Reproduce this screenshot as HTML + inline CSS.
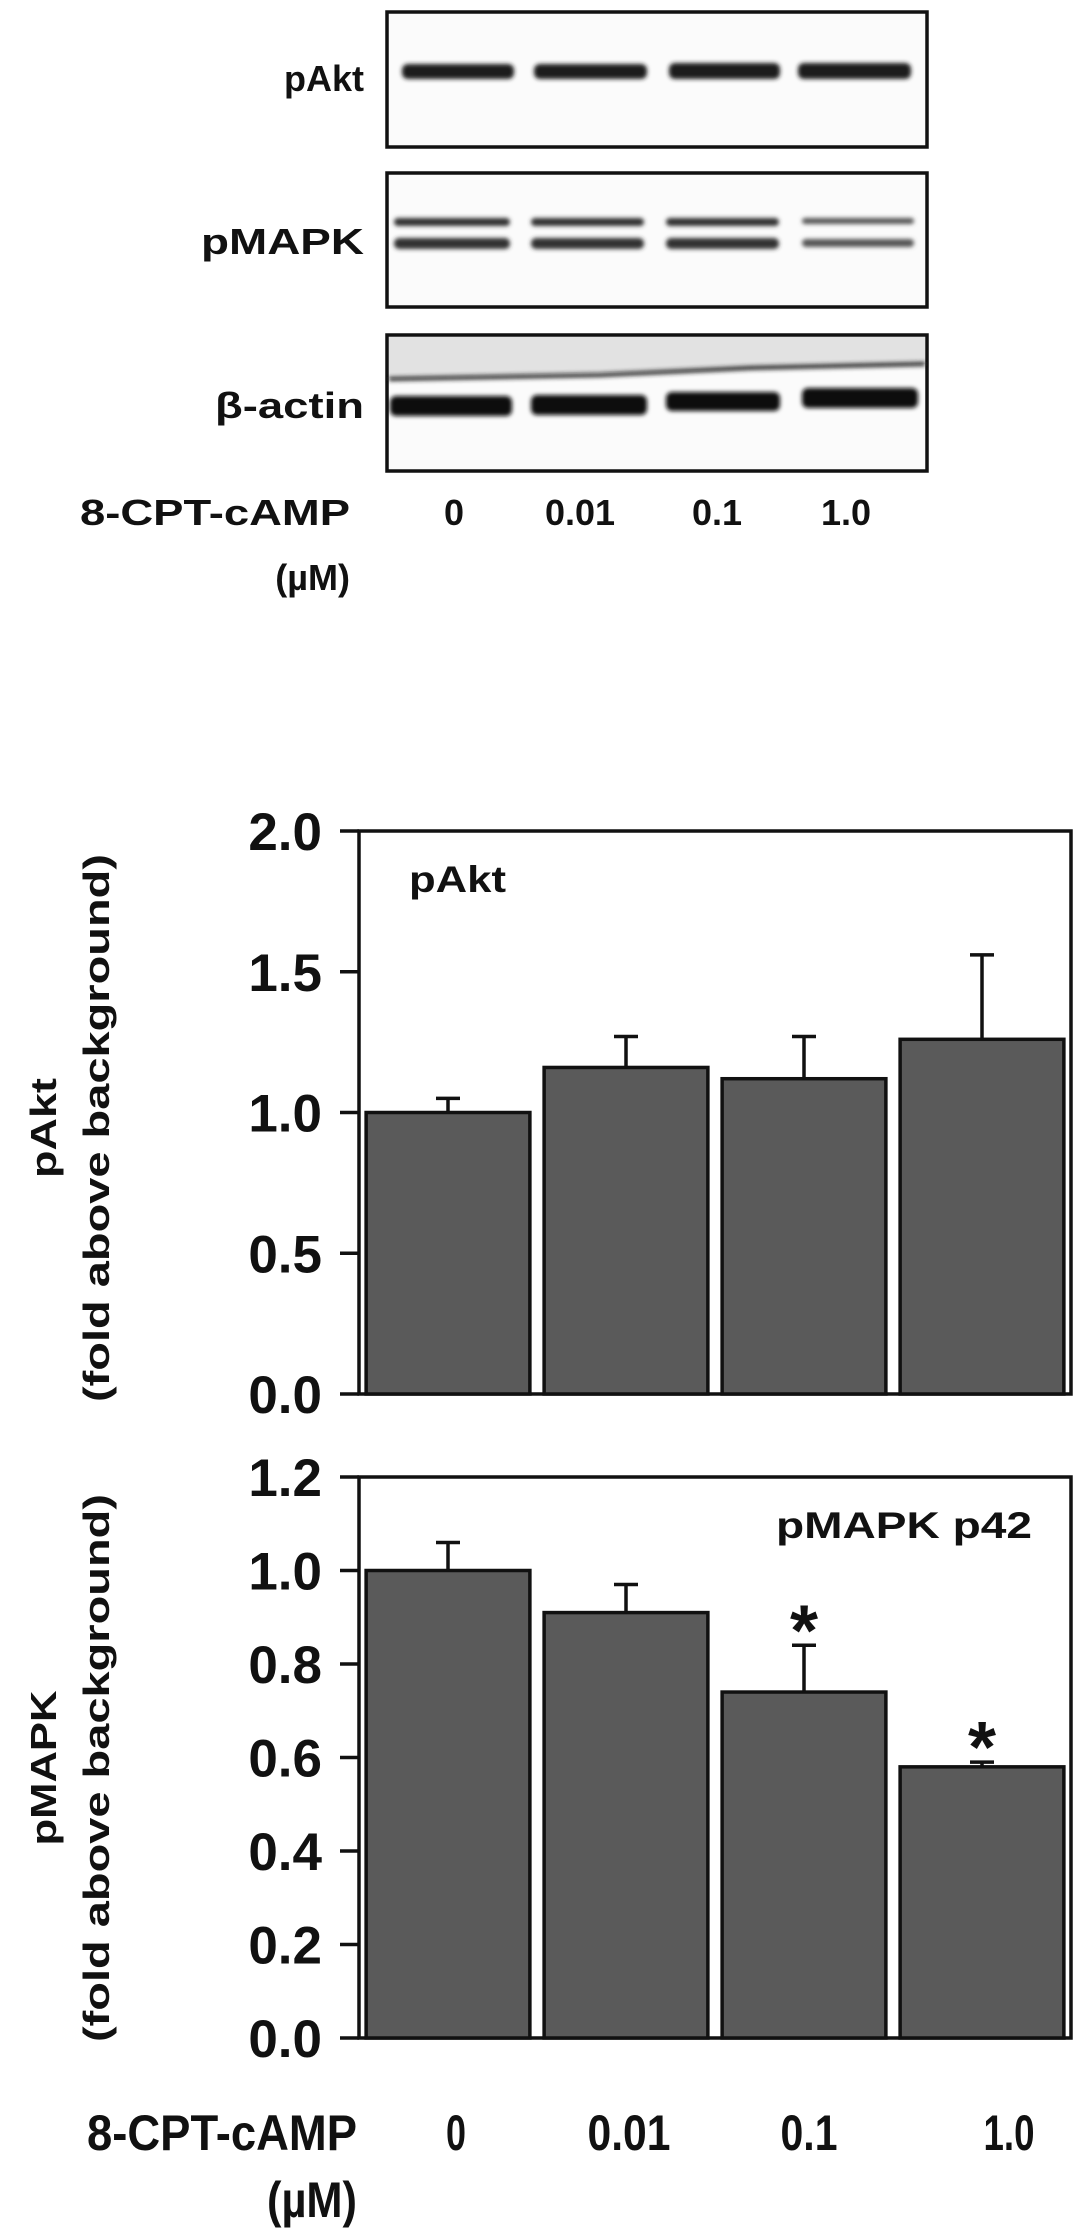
<!DOCTYPE html>
<html><head><meta charset="utf-8"><style>
html,body{margin:0;padding:0;background:#fff;}
svg{display:block;font-family:"Liberation Sans",Arial,sans-serif;}
</style></head><body>
<svg id="fig" width="1087" height="2230" viewBox="0 0 1087 2230">
<defs>
<filter id="blur" x="-10%" y="-100%" width="120%" height="300%"><feGaussianBlur stdDeviation="2.2"/></filter>
</defs>
<g font-weight="bold" fill="#111">
  <text x="364" y="91" text-anchor="end" font-size="36">pAkt</text>
  <text x="364" y="254" text-anchor="end" font-size="36" textLength="163" lengthAdjust="spacingAndGlyphs">pMAPK</text>
  <text x="364" y="418" text-anchor="end" font-size="36" textLength="149" lengthAdjust="spacingAndGlyphs">β-actin</text>

  <rect x="387" y="12" width="540" height="135" fill="#fbfbfb" stroke="#111" stroke-width="3.5"/>
  <g filter="url(#blur)" fill="#1a1a1a">
    <rect x="402" y="64" width="112" height="15" rx="6"/>
    <rect x="534" y="64" width="113" height="15" rx="6"/>
    <rect x="669" y="63" width="111" height="16" rx="6"/>
    <rect x="798" y="63" width="113" height="16" rx="6"/>
  </g>

  <rect x="387" y="173" width="540" height="134" fill="#fbfbfb" stroke="#111" stroke-width="3.5"/>
  <g filter="url(#blur)" fill="#333">
    <rect x="394" y="218" width="116" height="8" rx="4"/>
    <rect x="531" y="218" width="113" height="8" rx="4"/>
    <rect x="666" y="218" width="113" height="8" rx="4"/>
    <rect x="802" y="218" width="112" height="6" rx="3" fill="#555"/>
    <rect x="394" y="238" width="116" height="11" rx="5"/>
    <rect x="531" y="238" width="113" height="11" rx="5"/>
    <rect x="666" y="238" width="113" height="11" rx="5"/>
    <rect x="802" y="239" width="112" height="8" rx="4" fill="#555"/>
  </g>

  <rect x="387" y="335" width="540" height="136" fill="#fbfbfb" stroke="#111" stroke-width="3.5"/>
  <polygon points="389,337 925,337 925,364 389,378" fill="#e2e2e2"/>
  <path d="M389,379 L600,375 L750,368 L925,364" stroke="#222" stroke-width="4" fill="none" filter="url(#blur)"/>
  <g filter="url(#blur)" fill="#111">
    <rect x="390" y="396" width="122" height="20" rx="6"/>
    <rect x="531" y="395" width="116" height="20" rx="6"/>
    <rect x="666" y="392" width="114" height="19" rx="6"/>
    <rect x="802" y="388" width="116" height="20" rx="6"/>
  </g>

  <text x="80" y="525" font-size="36" textLength="270" lengthAdjust="spacingAndGlyphs">8-CPT-cAMP</text>
  <text x="350" y="590" text-anchor="end" font-size="36">(µM)</text>
  <text x="454" y="525" text-anchor="middle" font-size="36">0</text>
  <text x="580" y="525" text-anchor="middle" font-size="36">0.01</text>
  <text x="717" y="525" text-anchor="middle" font-size="36">0.1</text>
  <text x="846" y="525" text-anchor="middle" font-size="36">1.0</text>
</g>
<g id="charts"></g>
</svg>
<script>
const categories = ["0", "0.01", "0.1", "1.0"];
const paktValues = [1.00, 1.16, 1.12, 1.26];
const paktErrors = [0.05, 0.11, 0.15, 0.30];
const paktTicks = ["0.0", "0.5", "1.0", "1.5", "2.0"];
const mapkValues = [1.00, 0.91, 0.74, 0.58];
const mapkErrors = [0.06, 0.06, 0.10, 0.01];
const mapkTicks = ["0.0", "0.2", "0.4", "0.6", "0.8", "1.0", "1.2"];
const mapkSignificant = [false, false, true, true];

const NS = "http://www.w3.org/2000/svg";
const root = document.getElementById("charts");
function mk(tag, attrs, parent) {
  const e = document.createElementNS(NS, tag);
  for (const k in attrs) e.setAttribute(k, attrs[k]);
  (parent || root).appendChild(e);
  return e;
}
function drawChart(opt) {
  const g = mk("g", {});
  
  
  const L = 359, R = 1071, T = opt.top, B = opt.bottom;
  const yMax = parseFloat(opt.ticks[opt.ticks.length - 1]);
  const y = v => B - (v / yMax) * (B - T);
  const slot = (R - L) / opt.values.length;
  const xc = i => L + slot * (i + 0.5);
  const frame = mk("rect", {x: L, y: T, width: R - L, height: B - T, fill: "none", stroke: "#111", "stroke-width": 3.5}, g);
  
  
  opt.values.forEach((v, i) => {
    const bw = slot * 0.92;
    const bar = mk("rect", {x: xc(i) - bw / 2, y: y(v), width: bw, height: B - y(v), fill: "#5a5a5a", stroke: "#111", "stroke-width": 3.5}, g);
    
    
    const et = y(v + opt.errors[i]);
    const eb = mk("path", {d: `M${xc(i)},${y(v)} L${xc(i)},${et} M${xc(i) - 12},${et} L${xc(i) + 12},${et}`, stroke: "#111", "stroke-width": 3.5, fill: "none"}, g);
    
    
    if (opt.sig && opt.sig[i]) {
      const s = mk("text", {x: xc(i), y: et - 32 + 42, "text-anchor": "middle", "font-size": 72, "font-weight": "bold", fill: "#111"}, g);
      s.textContent = "*";
      
      
    }
  });
  opt.ticks.forEach(t => {
    const yy = y(parseFloat(t));
    const tk = mk("line", {x1: L - 19, x2: L, y1: yy, y2: yy, stroke: "#111", "stroke-width": 3.5}, g);
    
    
    const tl = mk("text", {x: 322, y: yy + 19, "text-anchor": "end", "font-size": 53, "font-weight": "bold", fill: "#111"}, g);
    tl.textContent = t;
    
    
  });
  const pl = mk("text", {x: opt.labelX, y: opt.labelY, "font-size": 37, "font-weight": "bold", fill: "#111", textLength: opt.labelLen, lengthAdjust: "spacingAndGlyphs"}, g);
  pl.textContent = opt.label;
  
  
  const cy = opt.titleY;
  const t1 = mk("text", {x: 0, y: 0, transform: `translate(56,${cy}) rotate(-90)`, "text-anchor": "middle", "font-size": 36, "font-weight": "bold", fill: "#111"}, g);
  t1.textContent = opt.title1;
  if (opt.title1Len) { t1.setAttribute('textLength', opt.title1Len); t1.setAttribute('lengthAdjust', 'spacingAndGlyphs'); }
  
  
  const t2 = mk("text", {x: 0, y: 0, transform: `translate(109,${cy}) rotate(-90)`, "text-anchor": "middle", "font-size": 36, "font-weight": "bold", fill: "#111", textLength: 548, lengthAdjust: "spacingAndGlyphs"}, g);
  t2.textContent = "(fold above background)";
  
  
}
drawChart({name: "pakt-chart", top: 831, bottom: 1394, values: paktValues, errors: paktErrors, ticks: paktTicks,
  label: "pAkt", labelX: 409, labelY: 892, labelLen: 97, title1: "pAkt", titleY: 1128, title1Len: 100});
drawChart({name: "pmapk-chart", top: 1477, bottom: 2038, values: mapkValues, errors: mapkErrors, ticks: mapkTicks, sig: mapkSignificant,
  label: "pMAPK p42", labelX: 776, labelY: 1538, labelLen: 256, title1: "pMAPK", titleY: 1768, title1Len: 155});

const xg = mk("g", {"font-size": 50, "font-weight": "bold", fill: "#111"});


const centers = [456, 629, 809, 1009];
categories.forEach((c, i) => {
  const t = mk("text", {x: centers[i], y: 2150, "text-anchor": "middle", textLength: [20, 83, 57, 51][i], lengthAdjust: "spacingAndGlyphs"}, xg);
  t.textContent = c;
  
  
});
const xt = mk("text", {x: 87, y: 2150, textLength: 270, lengthAdjust: "spacingAndGlyphs"}, xg);
xt.textContent = "8-CPT-cAMP";


const xu = mk("text", {x: 267, y: 2217, textLength: 90, lengthAdjust: "spacingAndGlyphs"}, xg);
xu.textContent = "(µM)";


</script>
</body></html>
